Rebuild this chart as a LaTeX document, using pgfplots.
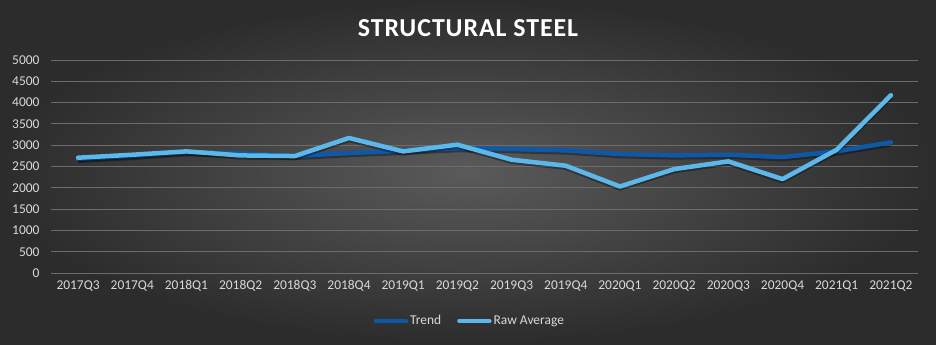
\documentclass[border=0pt]{standalone}
\usepackage{fontspec}
\setmainfont{Carlito}
\usepackage{pgfplots}
\usepackage{pgfplotstable}
\pgfplotsset{compat=1.18}
\definecolor{bgin}{HTML}{5A5A5A}
\definecolor{bgout}{HTML}{2C2C2C}
\definecolor{trend}{HTML}{0E58A8}
\definecolor{raw}{HTML}{5CB8EA}
\definecolor{lbl}{HTML}{D9D9D9}
\definecolor{gridc}{HTML}{6C6C6C}
\pgfplotstableread{
x trend raw
0 2680 2706
1 2750 2776
2 2840 2855
3 2805 2760
4 2750 2745
5 2816 3169
6 2870 2855
7 2933 3012
8 2910 2659
9 2878 2518
10 2792 2031
11 2761 2439
12 2776 2620
13 2722 2204
14 2855 2894
15 3067 4173
}\steel
\begin{document}
\begin{tikzpicture}[x=1bp,y=1bp]
\shade[inner color=bgin, outer color=bgout] (0,0) rectangle (936,344);
\node[font=\fontsize{26}{30}\selectfont\bfseries\addfontfeature{LetterSpace=3.5}, text=white] at (468,316) {STRUCTURAL STEEL};
\begin{axis}[
  at={(51bp,71bp)}, anchor=south west, scale only axis,
  width=867bp, height=213bp,
  xmin=-0.5, xmax=15.5, ymin=0, ymax=5000,
  ytick={0,500,...,5000},
  xtick={0,...,15},
  xticklabels={2017Q3,2017Q4,2018Q1,2018Q2,2018Q3,2018Q4,2019Q1,2019Q2,2019Q3,2019Q4,2020Q1,2020Q2,2020Q3,2020Q4,2021Q1,2021Q2},
  axis line style={draw=none},
  major tick length=0pt,
  ymajorgrids,
  grid style={gridc, line width=0.8bp},
  tick label style={font=\fontsize{13.5}{15}\selectfont, text=lbl},
  /pgf/number format/1000 sep={},
  /pgf/number format/assume math mode=true,
  yticklabel style={xshift=-8bp},
  xticklabel style={yshift=-4bp},
  legend style={at={(0.483,-0.225)}, anchor=center, draw=none, fill=none,
    legend columns=2, text=lbl, font=\fontsize{13.5}{15}\selectfont,
    inner sep=0pt, /tikz/every even column/.append style={column sep=14bp}},
  legend image code/.code={\draw[#1, line cap=round] (0bp,0bp) -- (30bp,0bp);},
]
\addplot[black, opacity=0.35, line width=4.5bp, line join=round, yshift=-2bp, forget plot] table[x=x,y=trend]{\steel};
\addplot[trend, line width=4.5bp, line join=round, line cap=round] table[x=x,y=trend]{\steel};
\addlegendentry{Trend}
\addplot[black, opacity=0.35, line width=4.5bp, line join=round, yshift=-2bp, forget plot] table[x=x,y=raw]{\steel};
\addplot[raw, line width=4.5bp, line join=round, line cap=round] table[x=x,y=raw]{\steel};
\addlegendentry{Raw Average}
\end{axis}
\end{tikzpicture}
\end{document}
